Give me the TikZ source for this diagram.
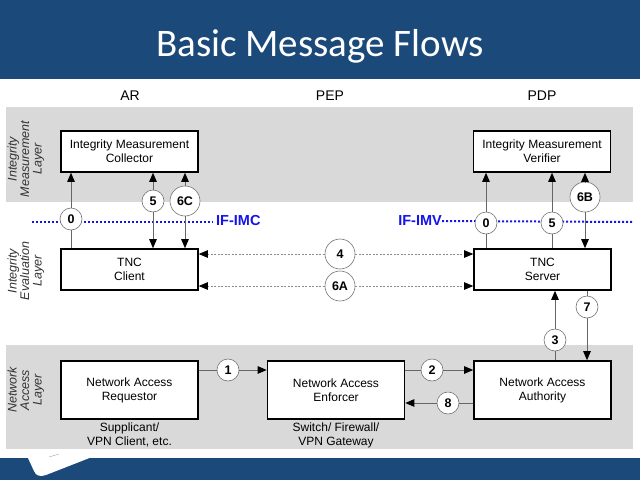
\documentclass[tikz,border=0pt]{standalone}
\usepackage{fontspec}
\setmainfont{Liberation Sans}
\newfontfamily\titlefont{Carlito}
\usetikzlibrary{arrows.meta,positioning}
\pgfdeclarelayer{bg}
\pgfsetlayers{bg,main}

\definecolor{banner}{RGB}{27,74,122}
\definecolor{layergray}{RGB}{217,217,217}
\definecolor{ifblue}{RGB}{20,20,235}

\tikzset{
  entity/.style={draw, line width=1.6pt, fill=white, minimum width=137pt,
    minimum height=41pt, align=center, inner sep=0pt,
    font=\fontsize{12}{14}\selectfont},
  flownum/.style={circle, draw=black!55, fill=white, line width=0.6pt,
    inner sep=0pt, minimum size=22pt, font=\fontsize{12.5}{12.5}\selectfont\bfseries},
  bignum/.style={flownum, minimum size=30pt},
  flow/.style={draw=black!60, line width=0.9pt},
  tip/.style={flow, -{Triangle[length=9pt,width=7.5pt,color=black]}},
  peer/.style={draw=black!45, line width=0.7pt, dash pattern=on 2pt off 1.5pt,
    -{Triangle[length=9pt,width=7.5pt,color=black]}},
  ifline/.style={draw=ifblue, line width=2pt, dash pattern=on 2.2pt off 1.8pt},
  layername/.style={rotate=90, align=center, text=black!80,
    font=\fontsize{12.5}{12.5}\selectfont\itshape},
  column/.style={font=\fontsize{14}{14}\selectfont},
  note/.style={align=center, inner sep=1pt, font=\fontsize{12}{13.5}\selectfont},
}

\begin{document}
\begin{tikzpicture}[x=1pt, y=-1pt]
  \useasboundingbox (0,0) rectangle (640,480);

  \begin{pgfonlayer}{bg}
  \fill[white] (0,0) rectangle (640,480);
  \fill[banner] (0,0) rectangle (640,79);
  \fill[banner] (0,458) rectangle (640,480);
  \fill[white] (28,458) -- (34,471) .. controls (36,476) and (40,477) .. (46,475)
    -- (92,457) -- cycle;
  \draw[black!30, line width=0.5pt] (49,457) -- (59,454);
  \fill[layergray] (6,107) rectangle (633,202);
  \fill[layergray] (6,345) rectangle (633,449);
  \end{pgfonlayer}

  \node[text=white, font=\titlefont\fontsize{39}{39}\selectfont] (title) at (320,46) {Basic Message Flows};

  \node[column] (hAR) at (130,96) {AR};
  \node[column] (hPEP) at (330,96) {PEP};
  \node[column] (hPDP) at (542,96) {PDP};

  \node[layername] (lMeas) at (26,159) {Integrity\\Measurement\\Layer};
  \node[layername] (lEval) at (26,271) {Integrity\\Evaluation\\Layer};
  \node[layername] (lNet) at (26,390) {Network\\Access\\Layer};

  \node[entity] (imc) at (129.5,151.5) {Integrity Measurement\\Collector};
  \node[entity] (imv) at (542,151.5) {Integrity Measurement\\Verifier};
  \node[entity] (client) at (129.5,269.5) {TNC\\Client};
  \node[entity] (server) at (542.5,269.5) {TNC\\Server};
  \node[entity, minimum height=58pt] (nar) at (129.5,390) {Network Access\\Requestor};
  \node[entity, minimum height=58pt] (nae) at (336,390) {Network Access\\Enforcer};
  \node[entity, minimum height=58pt] (naa) at (542.5,390) {Network Access\\Authority};

  \node[note, below=2pt of nar] (sup) {Supplicant/\\VPN Client, etc.};
  \node[note, below=2pt of nae] (sw) {Switch/ Firewall/\\VPN Gateway};

  \coordinate (imcL) at (32,222);
  \coordinate (imcR) at (213,222);
  \coordinate (imvR) at (633,222);
  \node[anchor=west, inner sep=0pt, text=ifblue, font=\fontsize{14.5}{14.5}\selectfont\bfseries] (ifimc) at (216,221) {IF-IMC};
  \node[anchor=east, inner sep=0pt, text=ifblue, font=\fontsize{14.5}{14.5}\selectfont\bfseries] (ifimv) at (442,221) {IF-IMV};
  \draw[ifline] (imcL) -- (imcR);
  \draw[ifline] (ifimv.east) -- (imvR);

  \node[flownum] (n0L) at (71,219) {0};
  \node[flownum] (n5L) at (153,201) {5};
  \node[bignum] (n6C) at (185,201) {6C};
  \node[flownum] (n0R) at (486,223) {0};
  \node[flownum] (n5R) at (552,223) {5};
  \node[bignum] (n6B) at (585,197) {6B};
  \node[bignum] (n4) at (340,254) {4};
  \node[bignum] (n6A) at (340,286) {6A};
  \node[flownum] (n7) at (587,307) {7};
  \node[flownum] (n3) at (555,340) {3};
  \node[flownum] (n1) at (228,370) {1};
  \node[flownum] (n2) at (432,370) {2};
  \node[flownum] (n8) at (448,403) {8};

  \draw[flow] (client.north -| n0L) -- (n0L.south);
  \draw[tip] (n0L.north) -- (imc.south -| n0L);
  \draw[tip] (n5L.north) -- (imc.south -| n5L);
  \draw[tip] (n5L.south) -- (client.north -| n5L);
  \draw[tip] (n6C.north) -- (imc.south -| n6C);
  \draw[tip] (n6C.south) -- (client.north -| n6C);

  \draw[flow] (server.north -| n0R) -- (n0R.south);
  \draw[tip] (n0R.north) -- (imv.south -| n0R);
  \draw[flow] (server.north -| n5R) -- (n5R.south);
  \draw[tip] (n5R.north) -- (imv.south -| n5R);
  \draw[tip] (n6B.north) -- (imv.south -| n6B);
  \draw[tip] (n6B.south) -- (server.north -| n6B);

  \draw[peer] (n4.west) -- (client.east |- n4);
  \draw[peer] (n4.east) -- (server.west |- n4);
  \draw[peer] (n6A.west) -- (client.east |- n6A);
  \draw[peer] (n6A.east) -- (server.west |- n6A);

  \draw[flow] (server.south -| n7) -- (n7.north);
  \draw[tip] (n7.south) -- (naa.north -| n7);
  \draw[flow] (naa.north -| n3) -- (n3.south);
  \draw[tip] (n3.north) -- (server.south -| n3);

  \draw[flow] (nar.east |- n1) -- (n1.west);
  \draw[tip] (n1.east) -- (nae.west |- n1);
  \draw[flow] (nae.east |- n2) -- (n2.west);
  \draw[tip] (n2.east) -- (naa.west |- n2);
  \draw[flow] (naa.west |- n8) -- (n8.east);
  \draw[tip] (n8.west) -- (nae.east |- n8);
\end{tikzpicture}
\end{document}
